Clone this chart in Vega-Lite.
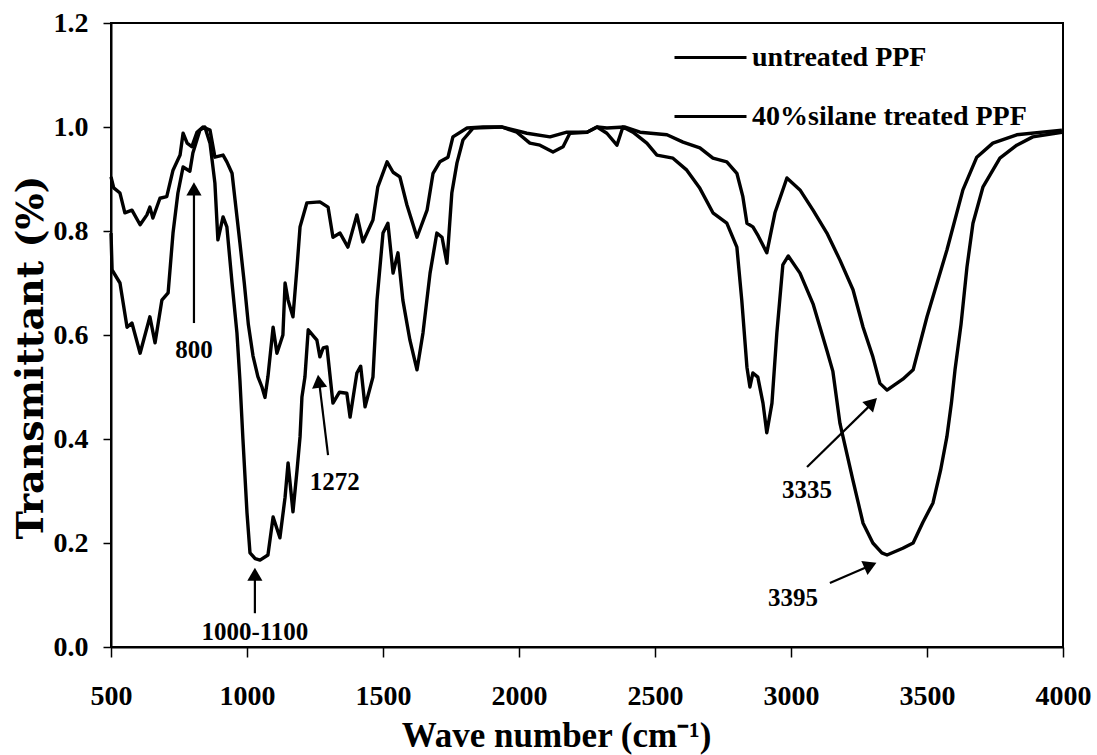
{
  "$schema": "https://vega.github.io/schema/vega-lite/v6.json",
  "width": 952,
  "height": 624,
  "autosize": {"type": "none"},
  "padding": {"left": 111, "top": 23, "right": 34, "bottom": 108},
  "background": "white",
  "datasets": {
    "curves": [
      {"series": "40%silane treated PPF", "wn": 500, "t": 0.904},
      {"series": "40%silane treated PPF", "wn": 510, "t": 0.883},
      {"series": "40%silane treated PPF", "wn": 533, "t": 0.873},
      {"series": "40%silane treated PPF", "wn": 551, "t": 0.835},
      {"series": "40%silane treated PPF", "wn": 577, "t": 0.84},
      {"series": "40%silane treated PPF", "wn": 607, "t": 0.812},
      {"series": "40%silane treated PPF", "wn": 632, "t": 0.831},
      {"series": "40%silane treated PPF", "wn": 643, "t": 0.846},
      {"series": "40%silane treated PPF", "wn": 654, "t": 0.825},
      {"series": "40%silane treated PPF", "wn": 680, "t": 0.863},
      {"series": "40%silane treated PPF", "wn": 705, "t": 0.866},
      {"series": "40%silane treated PPF", "wn": 728, "t": 0.917},
      {"series": "40%silane treated PPF", "wn": 754, "t": 0.946},
      {"series": "40%silane treated PPF", "wn": 765, "t": 0.988},
      {"series": "40%silane treated PPF", "wn": 780, "t": 0.969},
      {"series": "40%silane treated PPF", "wn": 797, "t": 0.962},
      {"series": "40%silane treated PPF", "wn": 816, "t": 0.99},
      {"series": "40%silane treated PPF", "wn": 838, "t": 1.0},
      {"series": "40%silane treated PPF", "wn": 864, "t": 0.994},
      {"series": "40%silane treated PPF", "wn": 882, "t": 0.942},
      {"series": "40%silane treated PPF", "wn": 912, "t": 0.946},
      {"series": "40%silane treated PPF", "wn": 926, "t": 0.933},
      {"series": "40%silane treated PPF", "wn": 945, "t": 0.911},
      {"series": "40%silane treated PPF", "wn": 956, "t": 0.86},
      {"series": "40%silane treated PPF", "wn": 974, "t": 0.777},
      {"series": "40%silane treated PPF", "wn": 990, "t": 0.7},
      {"series": "40%silane treated PPF", "wn": 1005, "t": 0.62},
      {"series": "40%silane treated PPF", "wn": 1022, "t": 0.56},
      {"series": "40%silane treated PPF", "wn": 1040, "t": 0.52},
      {"series": "40%silane treated PPF", "wn": 1055, "t": 0.5},
      {"series": "40%silane treated PPF", "wn": 1066, "t": 0.48},
      {"series": "40%silane treated PPF", "wn": 1077, "t": 0.52},
      {"series": "40%silane treated PPF", "wn": 1096, "t": 0.615},
      {"series": "40%silane treated PPF", "wn": 1110, "t": 0.565},
      {"series": "40%silane treated PPF", "wn": 1132, "t": 0.6},
      {"series": "40%silane treated PPF", "wn": 1140, "t": 0.7},
      {"series": "40%silane treated PPF", "wn": 1151, "t": 0.667},
      {"series": "40%silane treated PPF", "wn": 1169, "t": 0.635},
      {"series": "40%silane treated PPF", "wn": 1184, "t": 0.731},
      {"series": "40%silane treated PPF", "wn": 1195, "t": 0.808},
      {"series": "40%silane treated PPF", "wn": 1220, "t": 0.854},
      {"series": "40%silane treated PPF", "wn": 1268, "t": 0.856},
      {"series": "40%silane treated PPF", "wn": 1298, "t": 0.846},
      {"series": "40%silane treated PPF", "wn": 1316, "t": 0.788},
      {"series": "40%silane treated PPF", "wn": 1342, "t": 0.796},
      {"series": "40%silane treated PPF", "wn": 1371, "t": 0.769},
      {"series": "40%silane treated PPF", "wn": 1404, "t": 0.831},
      {"series": "40%silane treated PPF", "wn": 1426, "t": 0.779},
      {"series": "40%silane treated PPF", "wn": 1463, "t": 0.821},
      {"series": "40%silane treated PPF", "wn": 1481, "t": 0.885},
      {"series": "40%silane treated PPF", "wn": 1515, "t": 0.933},
      {"series": "40%silane treated PPF", "wn": 1537, "t": 0.913},
      {"series": "40%silane treated PPF", "wn": 1562, "t": 0.904},
      {"series": "40%silane treated PPF", "wn": 1588, "t": 0.85},
      {"series": "40%silane treated PPF", "wn": 1625, "t": 0.788},
      {"series": "40%silane treated PPF", "wn": 1662, "t": 0.84},
      {"series": "40%silane treated PPF", "wn": 1684, "t": 0.911},
      {"series": "40%silane treated PPF", "wn": 1709, "t": 0.933},
      {"series": "40%silane treated PPF", "wn": 1739, "t": 0.942},
      {"series": "40%silane treated PPF", "wn": 1757, "t": 0.981},
      {"series": "40%silane treated PPF", "wn": 1809, "t": 0.998},
      {"series": "40%silane treated PPF", "wn": 1868, "t": 1.0},
      {"series": "40%silane treated PPF", "wn": 1937, "t": 1.0},
      {"series": "40%silane treated PPF", "wn": 2029, "t": 0.988},
      {"series": "40%silane treated PPF", "wn": 2114, "t": 0.981},
      {"series": "40%silane treated PPF", "wn": 2176, "t": 0.99},
      {"series": "40%silane treated PPF", "wn": 2250, "t": 0.99},
      {"series": "40%silane treated PPF", "wn": 2287, "t": 1.0},
      {"series": "40%silane treated PPF", "wn": 2323, "t": 0.998},
      {"series": "40%silane treated PPF", "wn": 2390, "t": 1.0},
      {"series": "40%silane treated PPF", "wn": 2445, "t": 0.99},
      {"series": "40%silane treated PPF", "wn": 2544, "t": 0.985},
      {"series": "40%silane treated PPF", "wn": 2603, "t": 0.971},
      {"series": "40%silane treated PPF", "wn": 2665, "t": 0.96},
      {"series": "40%silane treated PPF", "wn": 2713, "t": 0.94},
      {"series": "40%silane treated PPF", "wn": 2764, "t": 0.933},
      {"series": "40%silane treated PPF", "wn": 2801, "t": 0.911},
      {"series": "40%silane treated PPF", "wn": 2823, "t": 0.866},
      {"series": "40%silane treated PPF", "wn": 2838, "t": 0.815},
      {"series": "40%silane treated PPF", "wn": 2860, "t": 0.808},
      {"series": "40%silane treated PPF", "wn": 2880, "t": 0.79},
      {"series": "40%silane treated PPF", "wn": 2911, "t": 0.758},
      {"series": "40%silane treated PPF", "wn": 2941, "t": 0.835},
      {"series": "40%silane treated PPF", "wn": 2985, "t": 0.902},
      {"series": "40%silane treated PPF", "wn": 3033, "t": 0.879},
      {"series": "40%silane treated PPF", "wn": 3081, "t": 0.84},
      {"series": "40%silane treated PPF", "wn": 3132, "t": 0.796},
      {"series": "40%silane treated PPF", "wn": 3180, "t": 0.744},
      {"series": "40%silane treated PPF", "wn": 3228, "t": 0.687},
      {"series": "40%silane treated PPF", "wn": 3265, "t": 0.615},
      {"series": "40%silane treated PPF", "wn": 3301, "t": 0.558},
      {"series": "40%silane treated PPF", "wn": 3327, "t": 0.507},
      {"series": "40%silane treated PPF", "wn": 3353, "t": 0.494},
      {"series": "40%silane treated PPF", "wn": 3411, "t": 0.515},
      {"series": "40%silane treated PPF", "wn": 3449, "t": 0.533},
      {"series": "40%silane treated PPF", "wn": 3500, "t": 0.635},
      {"series": "40%silane treated PPF", "wn": 3573, "t": 0.763},
      {"series": "40%silane treated PPF", "wn": 3632, "t": 0.879},
      {"series": "40%silane treated PPF", "wn": 3683, "t": 0.942},
      {"series": "40%silane treated PPF", "wn": 3742, "t": 0.969},
      {"series": "40%silane treated PPF", "wn": 3830, "t": 0.985},
      {"series": "40%silane treated PPF", "wn": 3996, "t": 0.994},

      {"series": "untreated PPF", "wn": 500, "t": 0.796},
      {"series": "untreated PPF", "wn": 504, "t": 0.725},
      {"series": "untreated PPF", "wn": 533, "t": 0.7},
      {"series": "untreated PPF", "wn": 559, "t": 0.615},
      {"series": "untreated PPF", "wn": 577, "t": 0.623},
      {"series": "untreated PPF", "wn": 607, "t": 0.565},
      {"series": "untreated PPF", "wn": 643, "t": 0.635},
      {"series": "untreated PPF", "wn": 662, "t": 0.585},
      {"series": "untreated PPF", "wn": 687, "t": 0.667},
      {"series": "untreated PPF", "wn": 710, "t": 0.681},
      {"series": "untreated PPF", "wn": 728, "t": 0.796},
      {"series": "untreated PPF", "wn": 746, "t": 0.873},
      {"series": "untreated PPF", "wn": 765, "t": 0.923},
      {"series": "untreated PPF", "wn": 790, "t": 0.915},
      {"series": "untreated PPF", "wn": 801, "t": 0.95},
      {"series": "untreated PPF", "wn": 827, "t": 0.994},
      {"series": "untreated PPF", "wn": 845, "t": 1.0},
      {"series": "untreated PPF", "wn": 864, "t": 0.969},
      {"series": "untreated PPF", "wn": 882, "t": 0.892},
      {"series": "untreated PPF", "wn": 893, "t": 0.783},
      {"series": "untreated PPF", "wn": 912, "t": 0.827},
      {"series": "untreated PPF", "wn": 926, "t": 0.808},
      {"series": "untreated PPF", "wn": 945, "t": 0.7},
      {"series": "untreated PPF", "wn": 963, "t": 0.604},
      {"series": "untreated PPF", "wn": 974, "t": 0.513},
      {"series": "untreated PPF", "wn": 985, "t": 0.4},
      {"series": "untreated PPF", "wn": 1000, "t": 0.258},
      {"series": "untreated PPF", "wn": 1011, "t": 0.181},
      {"series": "untreated PPF", "wn": 1030, "t": 0.17},
      {"series": "untreated PPF", "wn": 1048, "t": 0.167},
      {"series": "untreated PPF", "wn": 1077, "t": 0.177},
      {"series": "untreated PPF", "wn": 1096, "t": 0.25},
      {"series": "untreated PPF", "wn": 1121, "t": 0.21},
      {"series": "untreated PPF", "wn": 1140, "t": 0.288},
      {"series": "untreated PPF", "wn": 1151, "t": 0.354},
      {"series": "untreated PPF", "wn": 1169, "t": 0.26},
      {"series": "untreated PPF", "wn": 1184, "t": 0.34},
      {"series": "untreated PPF", "wn": 1195, "t": 0.404},
      {"series": "untreated PPF", "wn": 1202, "t": 0.481},
      {"series": "untreated PPF", "wn": 1213, "t": 0.519},
      {"series": "untreated PPF", "wn": 1225, "t": 0.61},
      {"series": "untreated PPF", "wn": 1257, "t": 0.59},
      {"series": "untreated PPF", "wn": 1268, "t": 0.558},
      {"series": "untreated PPF", "wn": 1280, "t": 0.575},
      {"series": "untreated PPF", "wn": 1294, "t": 0.577},
      {"series": "untreated PPF", "wn": 1316, "t": 0.469},
      {"series": "untreated PPF", "wn": 1340, "t": 0.49},
      {"series": "untreated PPF", "wn": 1367, "t": 0.488},
      {"series": "untreated PPF", "wn": 1379, "t": 0.442},
      {"series": "untreated PPF", "wn": 1404, "t": 0.527},
      {"series": "untreated PPF", "wn": 1418, "t": 0.54},
      {"series": "untreated PPF", "wn": 1434, "t": 0.462},
      {"series": "untreated PPF", "wn": 1463, "t": 0.519},
      {"series": "untreated PPF", "wn": 1478, "t": 0.667},
      {"series": "untreated PPF", "wn": 1500, "t": 0.796},
      {"series": "untreated PPF", "wn": 1518, "t": 0.815},
      {"series": "untreated PPF", "wn": 1537, "t": 0.719},
      {"series": "untreated PPF", "wn": 1555, "t": 0.758},
      {"series": "untreated PPF", "wn": 1573, "t": 0.667},
      {"series": "untreated PPF", "wn": 1599, "t": 0.59},
      {"series": "untreated PPF", "wn": 1625, "t": 0.533},
      {"series": "untreated PPF", "wn": 1647, "t": 0.604},
      {"series": "untreated PPF", "wn": 1673, "t": 0.719},
      {"series": "untreated PPF", "wn": 1698, "t": 0.796},
      {"series": "untreated PPF", "wn": 1717, "t": 0.788},
      {"series": "untreated PPF", "wn": 1735, "t": 0.738},
      {"series": "untreated PPF", "wn": 1753, "t": 0.873},
      {"series": "untreated PPF", "wn": 1772, "t": 0.931},
      {"series": "untreated PPF", "wn": 1794, "t": 0.975},
      {"series": "untreated PPF", "wn": 1831, "t": 0.998},
      {"series": "untreated PPF", "wn": 1937, "t": 1.0},
      {"series": "untreated PPF", "wn": 1992, "t": 0.99},
      {"series": "untreated PPF", "wn": 2040, "t": 0.969},
      {"series": "untreated PPF", "wn": 2077, "t": 0.965},
      {"series": "untreated PPF", "wn": 2125, "t": 0.952},
      {"series": "untreated PPF", "wn": 2162, "t": 0.962},
      {"series": "untreated PPF", "wn": 2187, "t": 0.988},
      {"series": "untreated PPF", "wn": 2250, "t": 0.99},
      {"series": "untreated PPF", "wn": 2287, "t": 1.0},
      {"series": "untreated PPF", "wn": 2323, "t": 0.988},
      {"series": "untreated PPF", "wn": 2360, "t": 0.965},
      {"series": "untreated PPF", "wn": 2382, "t": 1.0},
      {"series": "untreated PPF", "wn": 2419, "t": 0.99},
      {"series": "untreated PPF", "wn": 2470, "t": 0.969},
      {"series": "untreated PPF", "wn": 2507, "t": 0.946},
      {"series": "untreated PPF", "wn": 2566, "t": 0.94},
      {"series": "untreated PPF", "wn": 2617, "t": 0.917},
      {"series": "untreated PPF", "wn": 2665, "t": 0.882},
      {"series": "untreated PPF", "wn": 2713, "t": 0.835},
      {"series": "untreated PPF", "wn": 2764, "t": 0.815},
      {"series": "untreated PPF", "wn": 2801, "t": 0.769},
      {"series": "untreated PPF", "wn": 2819, "t": 0.667},
      {"series": "untreated PPF", "wn": 2838, "t": 0.538},
      {"series": "untreated PPF", "wn": 2849, "t": 0.5},
      {"series": "untreated PPF", "wn": 2860, "t": 0.527},
      {"series": "untreated PPF", "wn": 2878, "t": 0.519},
      {"series": "untreated PPF", "wn": 2897, "t": 0.469},
      {"series": "untreated PPF", "wn": 2911, "t": 0.412},
      {"series": "untreated PPF", "wn": 2930, "t": 0.469},
      {"series": "untreated PPF", "wn": 2948, "t": 0.604},
      {"series": "untreated PPF", "wn": 2970, "t": 0.735},
      {"series": "untreated PPF", "wn": 2990, "t": 0.752},
      {"series": "untreated PPF", "wn": 3033, "t": 0.719},
      {"series": "untreated PPF", "wn": 3081, "t": 0.66},
      {"series": "untreated PPF", "wn": 3132, "t": 0.57},
      {"series": "untreated PPF", "wn": 3154, "t": 0.53},
      {"series": "untreated PPF", "wn": 3180, "t": 0.43},
      {"series": "untreated PPF", "wn": 3228, "t": 0.32},
      {"series": "untreated PPF", "wn": 3265, "t": 0.238},
      {"series": "untreated PPF", "wn": 3301, "t": 0.2},
      {"series": "untreated PPF", "wn": 3334, "t": 0.181},
      {"series": "untreated PPF", "wn": 3353, "t": 0.177},
      {"series": "untreated PPF", "wn": 3411, "t": 0.19},
      {"series": "untreated PPF", "wn": 3449, "t": 0.2},
      {"series": "untreated PPF", "wn": 3485, "t": 0.24},
      {"series": "untreated PPF", "wn": 3522, "t": 0.277},
      {"series": "untreated PPF", "wn": 3550, "t": 0.34},
      {"series": "untreated PPF", "wn": 3573, "t": 0.404},
      {"series": "untreated PPF", "wn": 3590, "t": 0.47},
      {"series": "untreated PPF", "wn": 3603, "t": 0.533},
      {"series": "untreated PPF", "wn": 3625, "t": 0.62},
      {"series": "untreated PPF", "wn": 3647, "t": 0.731},
      {"series": "untreated PPF", "wn": 3669, "t": 0.815},
      {"series": "untreated PPF", "wn": 3706, "t": 0.885},
      {"series": "untreated PPF", "wn": 3768, "t": 0.94},
      {"series": "untreated PPF", "wn": 3830, "t": 0.965},
      {"series": "untreated PPF", "wn": 3889, "t": 0.981},
      {"series": "untreated PPF", "wn": 3996, "t": 0.99}
    ],
    "arrows": [
      {"label": "800", "wn": 805, "t": 0.623, "wn2": 805, "t2": 0.885},
      {"label": "1000-1100", "wn": 1029, "t": 0.065, "wn2": 1029, "t2": 0.145},
      {"label": "1272", "wn": 1298, "t": 0.369, "wn2": 1264, "t2": 0.515},
      {"label": "3335", "wn": 3059, "t": 0.346, "wn2": 3301, "t2": 0.47},
      {"label": "3395", "wn": 3143, "t": 0.123, "wn2": 3294, "t2": 0.157}
    ],
    "heads": [
      {"label": "800", "wn": 805, "t": 0.881, "angle": 0},
      {"label": "1000-1100", "wn": 1029, "t": 0.14, "angle": 0},
      {"label": "1272", "wn": 1264, "t": 0.511, "angle": -7},
      {"label": "3335", "wn": 3299, "t": 0.47, "angle": 45},
      {"label": "3395", "wn": 3292, "t": 0.157, "angle": 66}
    ],
    "labels": [
      {"text": "800", "wn": 805, "t": 0.571},
      {"text": "1000-1100", "wn": 1029, "t": 0.029},
      {"text": "1272", "wn": 1323, "t": 0.317},
      {"text": "3335", "wn": 3059, "t": 0.302},
      {"text": "3395", "wn": 3007, "t": 0.094}
    ]
  },
  "encoding": {
    "x": {
      "field": "wn", "type": "quantitative",
      "scale": {"domain": [500, 4000], "nice": false, "zero": false},
      "axis": {
        "values": [500, 1000, 1500, 2000, 2500, 3000, 3500, 4000],
        "format": "d",
        "title": "Wave number (cm⁻¹)",
        "tickSize": 10,
        "labelPadding": 25,
        "titleX": 445,
        "titleY": 88,
        "titleBaseline": "middle",
        "titleAnchor": "middle"
      }
    },
    "y": {
      "field": "t", "type": "quantitative",
      "scale": {"domain": [0, 1.2], "nice": false},
      "axis": {
        "values": [0, 0.2, 0.4, 0.6, 0.8, 1.0, 1.2],
        "format": ".1f",
        "title": "Transmittant (%)",
        "titleFont": "DejaVu Serif",
        "titleFontSize": 38,
        "tickSize": 8,
        "labelPadding": 15,
        "titleAngle": 270,
        "titleX": -80,
        "titleY": 334,
        "titleBaseline": "middle",
        "titleAlign": "center"
      }
    }
  },
  "layer": [
    {
      "data": {"name": "curves"},
      "mark": {"type": "line", "strokeWidth": 3.4, "strokeJoin": "round"},
      "encoding": {
        "color": {
          "field": "series", "type": "nominal",
          "scale": {"domain": ["untreated PPF", "40%silane treated PPF"], "range": ["black", "black"]},
          "legend": {
            "title": null,
            "orient": "none",
            "legendX": 562,
            "legendY": -3,
            "padding": 0,
            "symbolType": "stroke",
            "symbolSize": 5184,
            "symbolStrokeWidth": 3,
            "rowPadding": 7,
            "labelOffset": 4,
            "labelFont": "Liberation Serif",
            "labelFontWeight": "bold",
            "labelFontSize": 28,
            "labelColor": "black",
            "labelLimit": 400
          }
        },
        "detail": {"field": "series"}
      }
    },
    {
      "data": {"name": "arrows"},
      "mark": {"type": "rule", "strokeWidth": 2.2, "color": "black"},
      "encoding": {
        "x2": {"field": "wn2"},
        "y2": {"field": "t2"}
      }
    },
    {
      "data": {"name": "heads"},
      "mark": {"type": "point", "shape": "triangle-up", "filled": true, "color": "black", "size": 230, "opacity": 1},
      "encoding": {
        "angle": {"field": "angle", "type": "quantitative", "scale": null}
      }
    },
    {
      "data": {"name": "labels"},
      "mark": {"type": "text", "font": "Liberation Serif", "fontWeight": "bold", "fontSize": 25, "color": "black", "align": "center", "baseline": "middle"},
      "encoding": {
        "text": {"field": "text", "type": "nominal"}
      }
    }
  ],
  "config": {
    "view": {"stroke": "black", "strokeWidth": 2},
    "axis": {
      "grid": false,
      "domainColor": "black",
      "domainWidth": 2,
      "tickColor": "black",
      "tickWidth": 1.5,
      "labelFont": "Liberation Serif",
      "labelFontWeight": "bold",
      "labelFontSize": 28,
      "labelColor": "black",
      "titleFont": "Liberation Serif",
      "titleFontWeight": "bold",
      "titleFontSize": 35,
      "titleColor": "black",
      "labelFlush": false,
      "labelOverlap": false
    }
  }
}
